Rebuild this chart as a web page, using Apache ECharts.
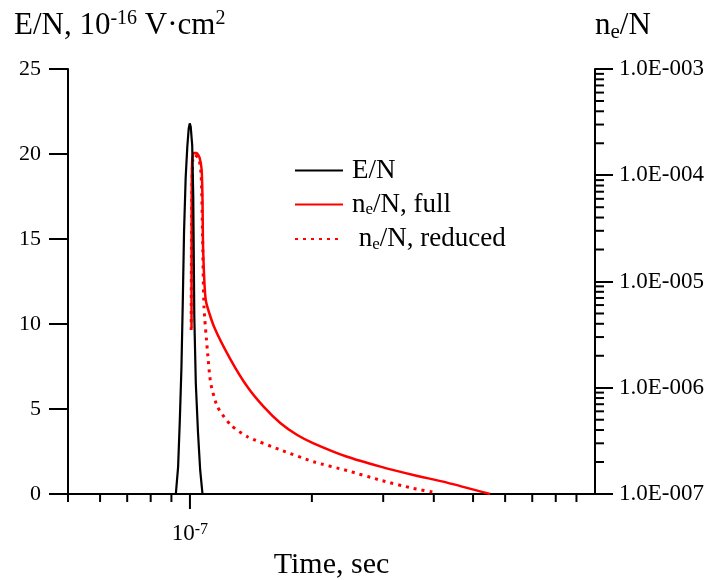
<!DOCTYPE html>
<html><head><meta charset="utf-8">
<script src="https://cdn.jsdelivr.net/npm/echarts@6/dist/echarts.min.js"></script>
<style>html,body{margin:0;padding:0;background:#fff}#c{width:714px;height:580px}</style>
</head><body><div id="c"></div>
<script>
const FONT = '"Liberation Serif","Times New Roman",serif';

// E/N pulse: time (s) and E/N (10^-16 V·cm²)
const enTime  = [9.23e-8, 9.35e-8, 9.44e-8, 9.53e-8, 9.60e-8, 9.67e-8, 9.76e-8, 9.85e-8, 9.93e-8, 9.99e-8, 1.0045e-7, 1.013e-7, 1.019e-7, 1.022e-7, 1.025e-7, 1.034e-7, 1.047e-7, 1.060e-7, 1.074e-7];
const enValue = [0, 1.6, 4.3, 7.5, 11.2, 15.4, 18.6, 20.4, 21.5, 21.8, 21.6, 20.5, 17.5, 14.0, 10.5, 6.5, 3.6, 1.4, 0];

// n_e/N, full kinetics
const fullTime  = [1.009e-7, 1.010e-7, 1.013e-7, 1.022e-7, 1.039e-7, 1.057e-7, 1.069e-7, 1.074e-7, 1.078e-7, 1.094e-7, 1.147e-7, 1.261e-7, 1.386e-7, 1.520e-7, 1.674e-7, 1.840e-7, 2.019e-7, 2.444e-7, 2.953e-7, 3.560e-7, 4.311e-7, 5.51e-7];
const fullValue = [3.65e-6, 5.85e-5, 1.39e-4, 1.62e-4, 1.62e-4, 1.45e-4, 1.12e-4, 5.85e-5, 1.98e-5, 6.70e-6, 3.75e-6, 1.83e-6, 1.02e-6, 6.63e-7, 4.63e-7, 3.59e-7, 3.00e-7, 2.24e-7, 1.81e-7, 1.51e-7, 1.28e-7, 1.0e-7];

// n_e/N, reduced kinetics
const redTime  = [1.007e-7, 1.010e-7, 1.016e-7, 1.028e-7, 1.051e-7, 1.066e-7, 1.074e-7, 1.083e-7, 1.104e-7, 1.125e-7, 1.169e-7, 1.261e-7, 1.386e-7, 1.674e-7, 2.019e-7, 2.444e-7, 2.953e-7, 3.560e-7, 4.034e-7];
const redValue = [3.5e-6, 5.85e-5, 1.39e-4, 1.55e-4, 1.45e-4, 1.0e-4, 2.86e-5, 5.79e-6, 2.27e-6, 1.11e-6, 6.63e-7, 4.46e-7, 3.46e-7, 2.60e-7, 2.01e-7, 1.66e-7, 1.35e-7, 1.13e-7, 1.03e-7];

// axis ticks
const xMinorTicks = [5e-8, 6e-8, 7e-8, 8e-8, 9e-8, 2e-7, 3e-7, 4e-7, 5e-7, 6e-7, 7e-7, 8e-7, 9e-7];
const xMajorTicks = [1e-7];
const rightMinorTicks = [2e-7, 3e-7, 4e-7, 5e-7, 6e-7, 7e-7, 8e-7, 9e-7,
  2e-6, 3e-6, 4e-6, 5e-6, 6e-6, 7e-6, 8e-6, 9e-6,
  2e-5, 3e-5, 4e-5, 5e-5, 6e-5, 7e-5, 8e-5, 9e-5,
  2e-4, 3e-4, 4e-4, 5e-4, 6e-4, 7e-4, 8e-4, 9e-4];
const xRange = [5e-8, 1e-6];
const leftRange = [0, 25];
const rightRange = [1e-7, 1e-3];

const names = ['E/N', 'ne/N, full', 'ne/N, reduced'];
const legendText = {
  'E/N': '{a|E/N}',
  'ne/N, full': '{a|n}{s|e}{a|/N, full}',
  'ne/N, reduced': '{a| n}{s|e}{a|/N, reduced}'
};

const zip = (a, b) => a.map((v, i) => [v, b[i]]);

const chart = echarts.init(document.getElementById('c'), null, {renderer: 'canvas'});
const richBase = {
  a: {fontFamily: FONT, fontSize: 27, fontWeight: 'normal', color: '#000', lineHeight: 28},
  s: {fontFamily: FONT, fontSize: 17, fontWeight: 'normal', color: '#000', lineHeight: 14, verticalAlign: 'bottom'}
};

chart.setOption({
  animation: false,
  backgroundColor: '#fff',
  title: [
    {text: '{a|E/N, 10}{p|-16}{a| V·cm}{p|2}', left: 9, top: 4,
     textStyle: {fontWeight: 'normal', rich: {
       a: {fontFamily: FONT, fontSize: 31, fontWeight: 'normal', color: '#000', lineHeight: 34},
       p: {fontFamily: FONT, fontSize: 20, fontWeight: 'normal', color: '#000', lineHeight: 24, verticalAlign: 'top'}}}},
    {text: '{a|n}{s|e}{a|/N}', left: 590, top: 4,
     textStyle: {fontWeight: 'normal', rich: {
       a: {fontFamily: FONT, fontSize: 31, fontWeight: 'normal', color: '#000', lineHeight: 34},
       s: {fontFamily: FONT, fontSize: 21, fontWeight: 'normal', color: '#000', lineHeight: 20, verticalAlign: 'bottom'}}}}
  ],
  legend: {
    data: names, orient: 'vertical', left: 289, top: 152, itemWidth: 48, itemHeight: 14, itemGap: 7,
    formatter: n => legendText[n],
    itemStyle: {color: 'transparent', borderColor: 'transparent', borderWidth: 0, opacity: 0},
    textStyle: {rich: richBase, padding: [0, 0, 0, 4]}
  },
  grid: {left: 68, right: 119, top: 69, bottom: 86, containLabel: false, outerBoundsMode: 'none'},
  xAxis: {
    type: 'log', logBase: 10, min: xRange[0], max: xRange[1],
    name: 'Time, sec', nameLocation: 'middle', nameGap: 56,
    nameTextStyle: {fontFamily: FONT, fontSize: 30, color: '#000'},
    axisLine: {show: true, onZero: false, lineStyle: {color: '#000', width: 2}},
    axisTick: {show: false}, splitLine: {show: false},
    axisLabel: {
      margin: 28,
      formatter: v => Math.abs(Math.log10(v) + 7) < 1e-3 ? '{b|10}{p|-7}' : '',
      rich: {
        b: {fontFamily: FONT, fontSize: 23, color: '#000', lineHeight: 24},
        p: {fontFamily: FONT, fontSize: 16, color: '#000', lineHeight: 14, verticalAlign: 'top'}
      }
    }
  },
  yAxis: [
    {type: 'value', min: leftRange[0], max: leftRange[1], interval: 5, position: 'left',
     axisLine: {show: true, lineStyle: {color: '#000', width: 2}},
     axisTick: {show: true, length: 19, lineStyle: {color: '#000', width: 2}},
     axisLabel: {margin: 27, fontFamily: FONT, fontSize: 22, color: '#000'},
     splitLine: {show: false}},
    {type: 'log', logBase: 10, min: rightRange[0], max: rightRange[1], position: 'right',
     axisLine: {show: true, lineStyle: {color: '#000', width: 2}},
     axisTick: {show: true, length: 18, lineStyle: {color: '#000', width: 2}},
     axisLabel: {margin: 24, fontFamily: FONT, fontSize: 23, color: '#000',
       formatter: v => '1.0E-' + String(-Math.round(Math.log10(v))).padStart(3, '0')},
     splitLine: {show: false}}
  ],
  series: [
    {name: 'ne/N, reduced', type: 'line', xAxisIndex: 0, yAxisIndex: 1, symbol: 'none', showSymbol: false,
     data: zip(redTime, redValue), z: 3, smooth: 0.2,
     lineStyle: {color: '#ff0000', width: 3, type: [3, 5]}, itemStyle: {color: '#ff0000'}},
    {name: 'ne/N, full', type: 'line', xAxisIndex: 0, yAxisIndex: 1, symbol: 'none', showSymbol: false,
     data: zip(fullTime, fullValue), z: 4, smooth: 0.2,
     lineStyle: {color: '#ff0000', width: 2.5}, itemStyle: {color: '#ff0000'}},
    {name: 'E/N', type: 'line', xAxisIndex: 0, yAxisIndex: 0, symbol: 'none', showSymbol: false,
     data: zip(enTime, enValue), z: 5,
     lineStyle: {color: '#000', width: 2.2}, itemStyle: {color: '#000'}},
    {type: 'custom', xAxisIndex: 0, yAxisIndex: 0, silent: true, clip: false, z: 6,
     data: xMinorTicks.map(t => [t, 0, 8]).concat(xMajorTicks.map(t => [t, 0, 15])),
     renderItem: (params, api) => {
       const p = api.coord([api.value(0), api.value(1)]);
       return {type: 'line', shape: {x1: p[0], y1: p[1], x2: p[0], y2: p[1] + api.value(2)},
               style: {stroke: '#000', lineWidth: 2}};
     }},
    {type: 'custom', xAxisIndex: 0, yAxisIndex: 1, silent: true, clip: false, z: 6,
     data: rightMinorTicks.map(v => [xRange[1], v]),
     renderItem: (params, api) => {
       const p = api.coord([api.value(0), api.value(1)]);
       return {type: 'line', shape: {x1: p[0], y1: p[1], x2: p[0] + 9, y2: p[1]},
               style: {stroke: '#000', lineWidth: 2}};
     }}
  ]
});
</script>
</body></html>
